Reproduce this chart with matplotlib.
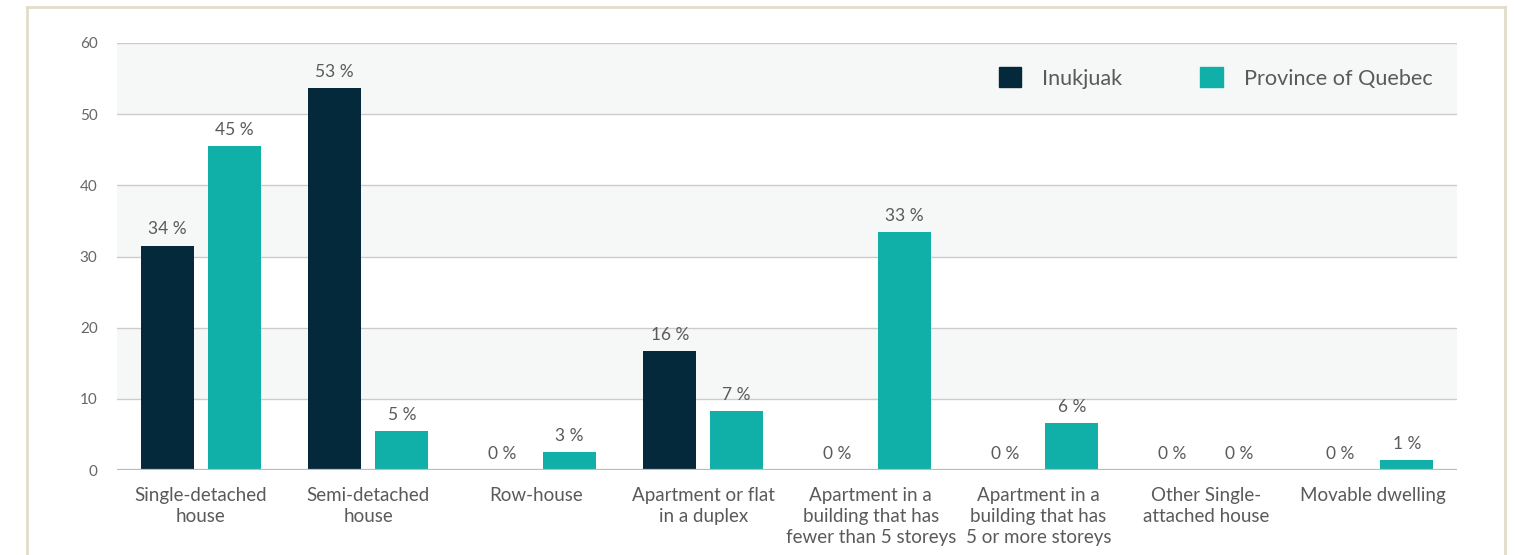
import numpy as np
import matplotlib
matplotlib.use('Agg')
import matplotlib.pyplot as plt
from matplotlib.patches import Patch
from matplotlib.lines import Line2D

categories = ['Single-detached\nhouse', 'Semi-detached\nhouse', 'Row-house',
              'Apartment or flat\nin a duplex',
              'Apartment in a\nbuilding that has\nfewer than 5 storeys',
              'Apartment in a\nbuilding that has\n5 or more storeys',
              'Other Single-\nattached house', 'Movable dwelling']
inukjuak = [31.5, 53.7, 0, 16.7, 0, 0, 0, 0]
quebec = [45.5, 5.5, 2.5, 8.3, 33.4, 6.6, 0, 1.4]
inukjuak_labels = ['34 %', '53 %', '0 %', '16 %', '0 %', '0 %', '0 %', '0 %']
quebec_labels = ['45 %', '5 %', '3 %', '7 %', '33 %', '6 %', '0 %', '1 %']
series_names = ['Inukjuak', 'Province of Quebec']

dark = '#03293a'
teal = '#10b0a8'
txt = '#5a5a5a'

plt.rcParams['font.family'] = ['Lato', 'DejaVu Sans']

fig = plt.figure(figsize=(15.15, 5.55), dpi=100)
# beige frame
fc = '#e2dccb'
fig.add_artist(Line2D([27/1515, 27/1515], [0, 1 - 7/555], color=fc, lw=2))
fig.add_artist(Line2D([1505/1515, 1505/1515], [0, 1 - 7/555], color=fc, lw=2))
fig.add_artist(Line2D([27/1515, 1505/1515], [1 - 7/555, 1 - 7/555], color=fc, lw=2))

ax = fig.add_axes([117/1515, 85/555, 1340/1515, 427/555])
ax.set_xlim(-0.5, 7.5)
ax.set_ylim(0, 60)

for y0 in [10, 30, 50]:
    ax.axhspan(y0, y0 + 10, color='#f6f8f8', zorder=0, lw=0)
for y in range(10, 70, 10):
    ax.axhline(y, color='#cccccc', lw=1, zorder=1)
ax.axhline(0, color='#bbbbbb', lw=1.6, zorder=3)

x = np.arange(len(categories))
w = 0.316
off = 0.2
ax.bar(x - off, inukjuak, w, color=dark, zorder=2)
ax.bar(x + off, quebec, w, color=teal, zorder=2)

for i in range(len(categories)):
    ax.annotate(inukjuak_labels[i], (x[i] - off, inukjuak[i]), xytext=(0, 6),
                textcoords='offset points', ha='center', va='bottom',
                fontsize=12.5, color=txt)
    ax.annotate(quebec_labels[i], (x[i] + off, quebec[i]), xytext=(0, 6),
                textcoords='offset points', ha='center', va='bottom',
                fontsize=12.5, color=txt)

ax.set_xticks(x)
ax.set_xticklabels(categories, fontsize=13.5, color=txt,
                   linespacing=1.3, va='top')
ax.set_yticks(range(0, 70, 10))
ax.tick_params(axis='x', length=0, pad=12)
ax.tick_params(axis='y', length=0, pad=14, labelsize=11, labelcolor='#666666')
for s in ax.spines.values():
    s.set_visible(False)

handles = [Patch(color=dark), Patch(color=teal)]
leg = ax.legend(handles, series_names, loc='center left', bbox_to_anchor=(0.658, 0.918),
                ncol=2, frameon=False, fontsize=15.6, handlelength=1.05, handleheight=1.05,
                handletextpad=0.95, columnspacing=3.6, borderpad=0, borderaxespad=0)
for t in leg.get_texts():
    t.set_color(txt)

fig.savefig('out.png', dpi=100)
